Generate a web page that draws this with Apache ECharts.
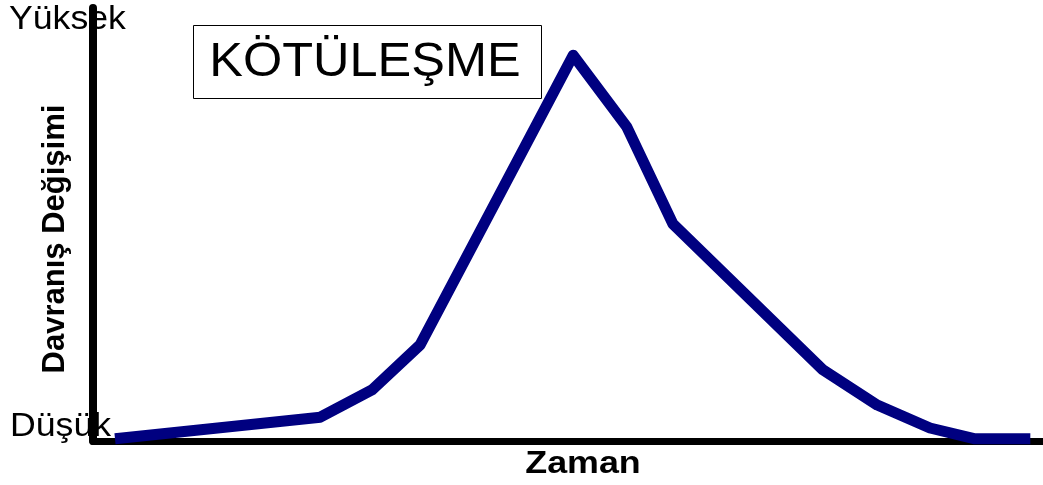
<!DOCTYPE html>
<html>
<head>
<meta charset="utf-8">
<script src="https://cdn.jsdelivr.net/npm/echarts@6/dist/echarts.min.js"></script>
<style>
html,body{margin:0;padding:0;background:#fff;}
#chart{width:1043px;height:485px;}
</style>
</head>
<body>
<div id="chart"></div>
<script>
// Time positions of the curve's vertices and behaviour change level (0-100)
const timeSteps = [0, 4.05, 5.07, 6.02, 9.04, 10.1, 11.01, 13.97, 15.04, 16.08, 16.97, 18.06];
const behaviourValues = [0.5, 5.5, 11.8, 22.2, 89.1, 72.5, 50.1, 16.4, 8.3, 3.0, 0.5, 0.5];
const yLabels = ['Düşük', 'Yüksek'];
const xTitle = 'Zaman';
const yTitle = 'Davranış Değişimi';
const boxTitle = 'KÖTÜLEŞME';

const seriesData = timeSteps.map((t, i) => [t, behaviourValues[i]]);
const font = '"Liberation Sans", Arial, sans-serif';

const chart = echarts.init(document.getElementById('chart'), null, {renderer: 'canvas'});
chart.setOption({
  animation: false,
  backgroundColor: '#ffffff',
  grid: {left: 93, right: 0, top: 8, bottom: 44, containLabel: false},
  xAxis: {
    type: 'value', min: -0.434, max: 18.31,
    axisLine: {show: true, lineStyle: {color: '#000', width: 7}},
    axisTick: {show: false}, axisLabel: {show: false}, splitLine: {show: false}
  },
  yAxis: {
    type: 'value', min: 0, max: 100,
    axisLine: {show: true, onZero: false, lineStyle: {color: '#000', width: 8}},
    axisTick: {show: false}, axisLabel: {show: false}, splitLine: {show: false}
  },
  series: [{
    type: 'line',
    data: seriesData,
    symbol: 'none',
    lineStyle: {color: '#000080', width: 11, join: 'round', cap: 'butt'},
    z: 1
  }],
  graphic: [
    {type: 'text', x: 9, y: 20, z: 10,
     style: {text: yLabels[1], font: '33px ' + font, fill: '#000', textAlign: 'left', textVerticalAlign: 'middle'},
     scaleX: 1.08},
    {type: 'text', x: 10, y: 427, z: 10,
     style: {text: yLabels[0], font: '33px ' + font, fill: '#000', textAlign: 'left', textVerticalAlign: 'middle'},
     scaleX: 1.08},
    {type: 'rect', shape: {x: 193.5, y: 25.5, width: 348, height: 73}, z: 10,
     style: {fill: '#fff', stroke: '#000', lineWidth: 1}},
    {type: 'text', x: 365, y: 62, z: 11,
     style: {text: boxTitle, font: '49px ' + font, fill: '#000', textAlign: 'center', textVerticalAlign: 'middle'},
     scaleX: 1.03},
    {type: 'text', x: 583, y: 464, z: 10,
     style: {text: xTitle, font: 'bold 32px ' + font, fill: '#000', textAlign: 'center', textVerticalAlign: 'middle'},
     scaleX: 1.12},
    {type: 'text', x: 55, y: 239, rotation: Math.PI / 2, z: 10,
     style: {text: yTitle, font: 'bold 31px ' + font, fill: '#000', textAlign: 'center', textVerticalAlign: 'middle'}}
  ]
});
</script>
</body>
</html>
